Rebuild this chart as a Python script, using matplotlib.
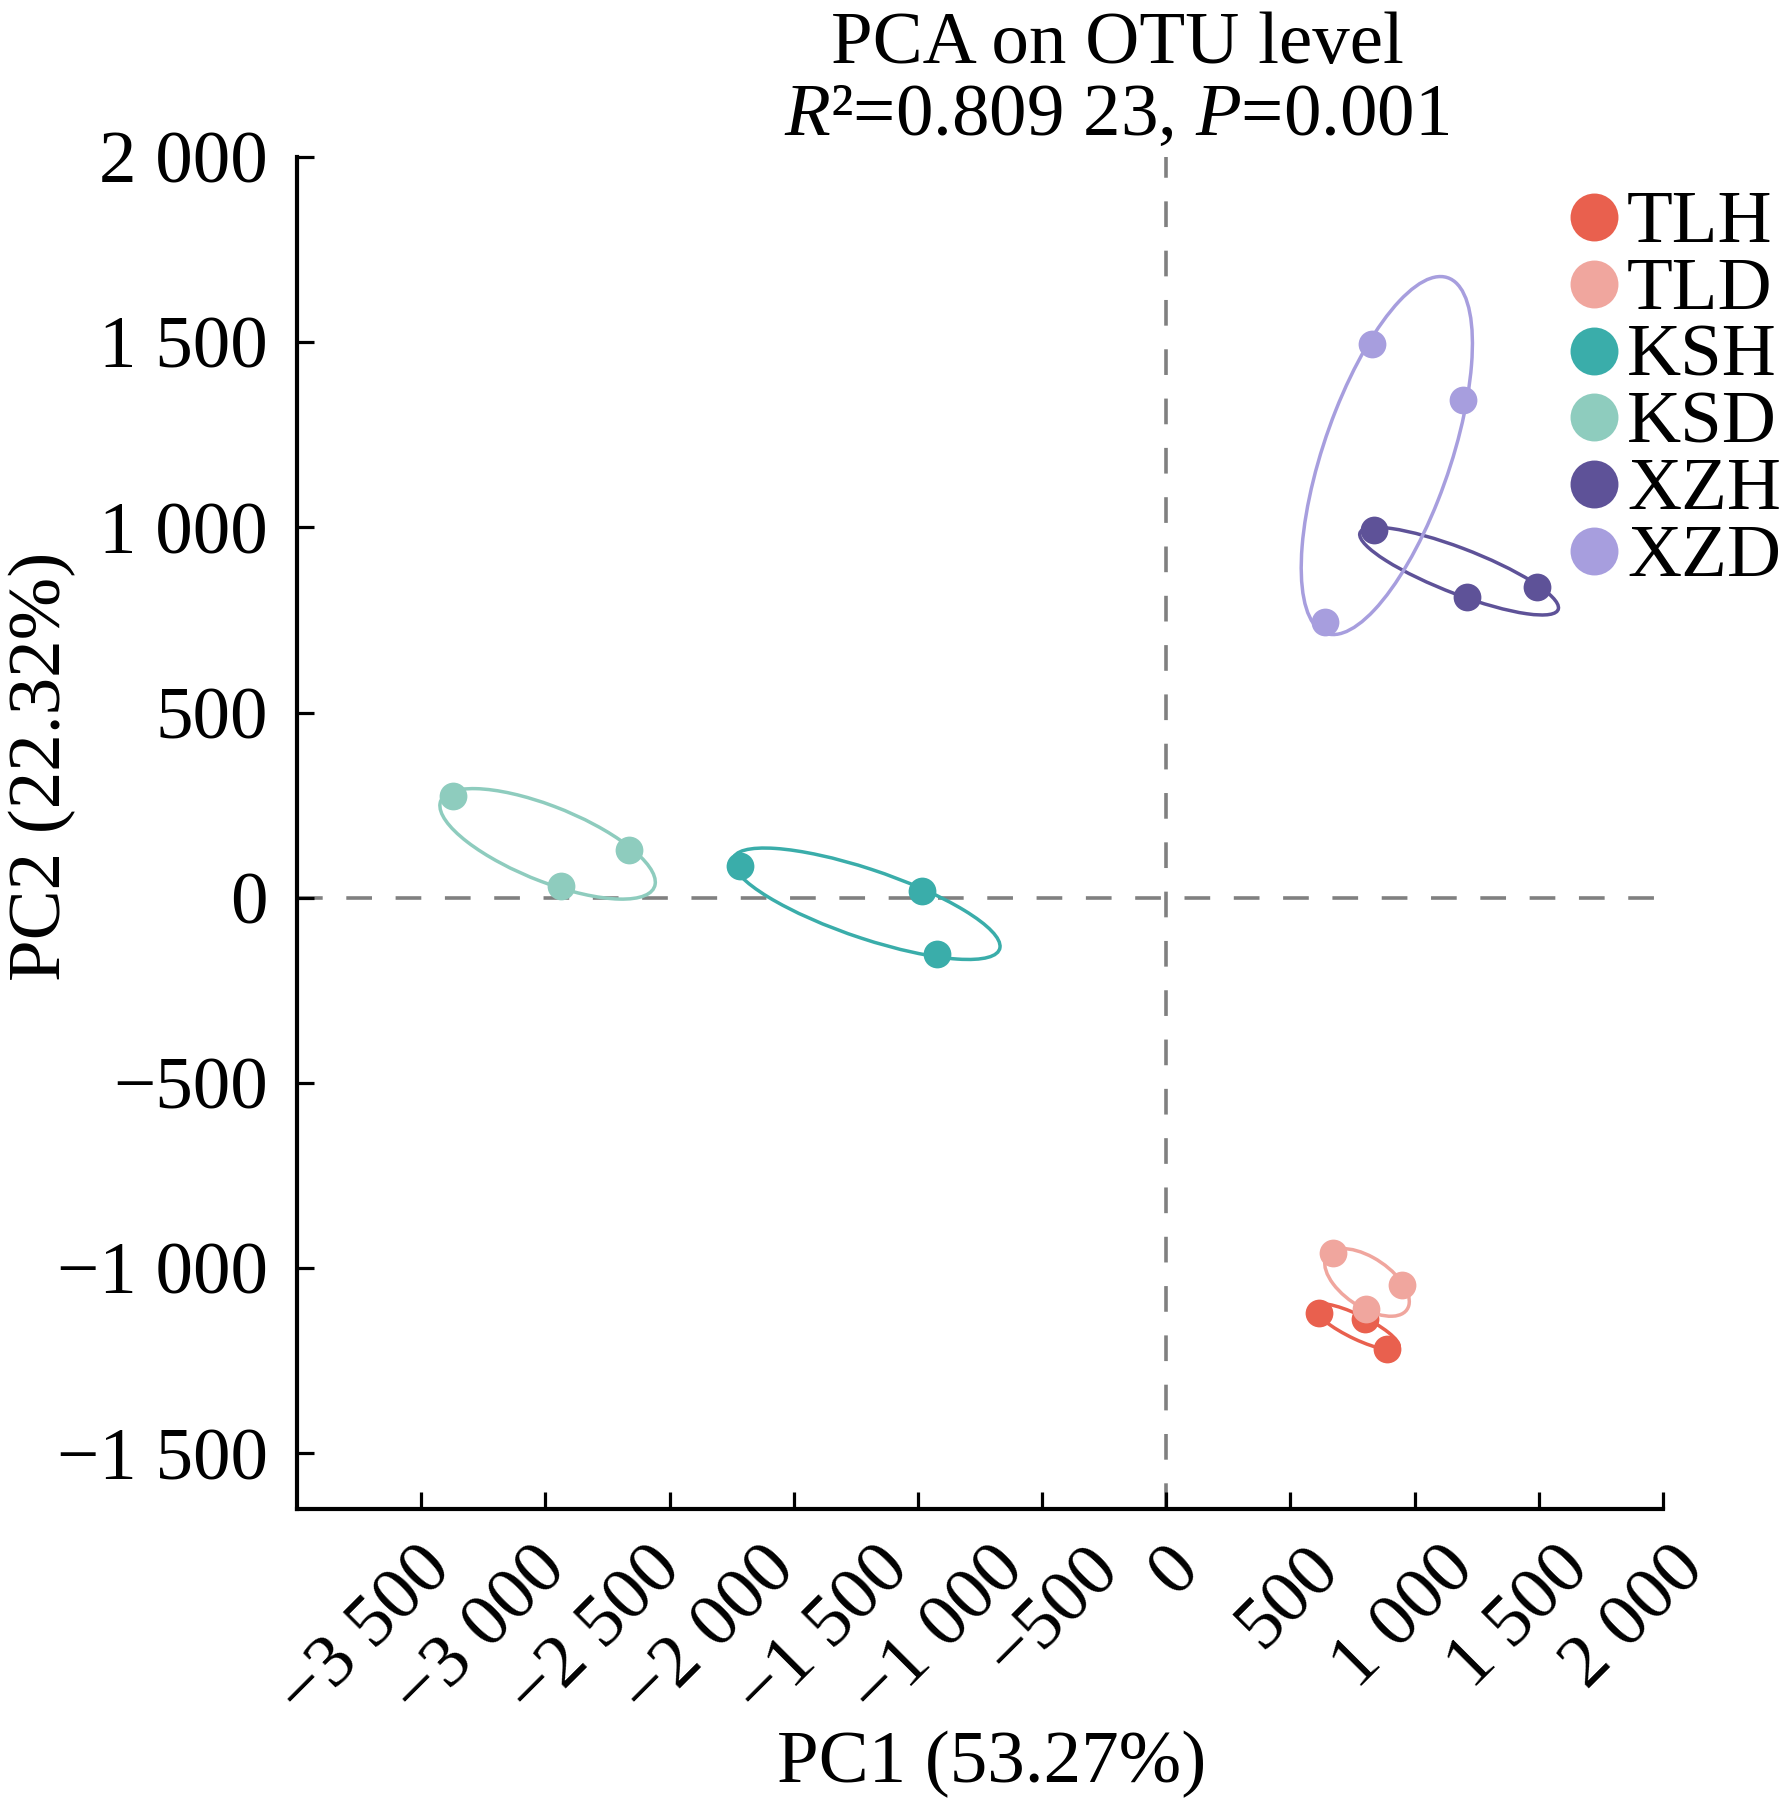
import numpy as np
import matplotlib
matplotlib.use("Agg")
import matplotlib.pyplot as plt
from matplotlib.patches import Ellipse

plt.rcParams['font.family'] = ['Liberation Serif', 'DejaVu Serif']
plt.rcParams['mathtext.fontset'] = 'custom'
plt.rcParams['mathtext.rm'] = 'Liberation Serif'
plt.rcParams['mathtext.it'] = 'Liberation Serif:italic'
plt.rcParams['lines.scale_dashes'] = False

# ---------------- data ----------------
groups = ['TLH', 'TLD', 'KSH', 'KSD', 'XZH', 'XZD']
colors = ['#E9604E', '#F0A69E', '#3AADAA', '#8ECCBE', '#5E5298', '#A79EDE']

tlh_pc1 = [613, 801, 887]
tlh_pc2 = [-1122, -1136, -1217]
tld_pc1 = [670, 949, 806]
tld_pc2 = [-960, -1046, -1109]
ksh_pc1 = [-1716, -984, -923]
ksh_pc2 = [86, 19, -153]
ksd_pc1 = [-2870, -2165, -2438]
ksd_pc2 = [275, 130, 32]
xzh_pc1 = [837, 1209, 1491]
xzh_pc2 = [993, 813, 840]
xzd_pc1 = [830, 1195, 639]
xzd_pc2 = [1494, 1343, 745]

pc1_sets = [tlh_pc1, tld_pc1, ksh_pc1, ksd_pc1, xzh_pc1, xzd_pc1]
pc2_sets = [tlh_pc2, tld_pc2, ksh_pc2, ksd_pc2, xzh_pc2, xzd_pc2]

x_ticks = [-3000, -2500, -2000, -1500, -1000, -500, 0, 500, 1000, 1500, 2000]
x_tick_labels = ['\u22123 500', '\u22123 000', '\u22122 500', '\u22122 000', '\u22121 500',
                 '\u22121 000', '\u2212500', '0', '500', '1 000', '1 500', '2 000']
# label anchor positions (as drawn in the original figure, along PC1)
x_label_pos = [-2824, -2361, -1898, -1439, -980, -517, -135, 188, 751, 1295, 1758, 2221]

y_ticks = [2000, 1500, 1000, 500, 0, -500, -1000, -1500]
y_tick_labels = ['2 000', '1 500', '1 000', '500', '0', '\u2212500', '\u22121 000', '\u22121 500']

title_line1 = 'PCA on OTU level'
title_line2 = r'$\mathit{R}$²=0.809 23, $\mathit{P}$=0.001'
xlabel = 'PC1 (53.27%)'
ylabel = 'PC2 (22.32%)'

# ---------------- figure ----------------
W, H = 1780, 1805
fig = plt.figure(figsize=(W / 100, H / 100), dpi=100)
ax_l, ax_r, ax_t, ax_b = 297, 1663, 157, 1509
ax = fig.add_axes([ax_l / W, 1 - ax_b / H, (ax_r - ax_l) / W, (ax_b - ax_t) / H])
ax.set_xlim(-3500, 2000)
ax.set_ylim(-1650, 2000)

for s in ['top', 'right']:
    ax.spines[s].set_visible(False)
for s in ['left', 'bottom']:
    ax.spines[s].set_linewidth(3.0)

FS = 54
ax.set_xticks(x_ticks)
ax.set_xticklabels([])
ax.set_yticks(y_ticks)
ax.set_yticklabels(y_tick_labels, fontsize=FS)
ax.tick_params(axis='both', direction='in', length=12, width=2.3)
ax.tick_params(axis='y', pad=21)

# rotated x tick labels
xt = ax.get_xaxis_transform()
for pos, lab in zip(x_label_pos, x_tick_labels):
    ax.text(pos, -26 / (ax_b - ax_t), lab, transform=xt, rotation=45,
            ha='right', va='top', fontsize=FS, clip_on=False)

# reference lines
ax.axhline(0, color='#808080', lw=2.6, ls=(0, (18.5, 17)), zorder=1)
ax.axvline(0, color='#808080', lw=2.6, ls=(0, (18.5, 17)), zorder=1)

# ellipses + points
k = 1.22
for xs, ys, c in zip(pc1_sets, pc2_sets, colors):
    xs = np.asarray(xs, float)
    ys = np.asarray(ys, float)
    cov = np.cov(xs, ys)
    vals, vecs = np.linalg.eigh(cov)
    ang = np.degrees(np.arctan2(vecs[1, 1], vecs[0, 1]))
    e = Ellipse((xs.mean(), ys.mean()), 2 * k * np.sqrt(vals[1]), 2 * k * np.sqrt(vals[0]),
                angle=ang, facecolor='none', edgecolor=c, lw=2.5, zorder=2)
    ax.add_patch(e)
    ax.plot(xs, ys, 'o', ms=20, color=c, mec='none', zorder=3, clip_on=False)

# legend (manual)
lx_m = (1594 - ax_l) / (ax_r - ax_l)
lx_t = (1627 - ax_l) / (ax_r - ax_l)
for i, (g, c) in enumerate(zip(groups, colors)):
    ypx = 217 + i * 66.8
    ya = (ax_b - ypx) / (ax_b - ax_t)
    ax.plot([lx_m], [ya], 'o', ms=34.5, color=c, mec='none', transform=ax.transAxes,
            clip_on=False, zorder=4)
    ax.text(lx_t, ya - 25 / (ax_b - ax_t), g, transform=ax.transAxes, ha='left',
            va='baseline', fontsize=FS, clip_on=False)

# titles / labels
fig.text(1117 / W, 1 - 63 / H, title_line1, ha='center', va='baseline', fontsize=FS)
fig.text(1117 / W, 1 - 135 / H, title_line2, ha='center', va='baseline', fontsize=FS)
fig.text(992 / W, 1 - 1782 / H, xlabel, ha='center', va='baseline', fontsize=FS)
fig.text(42 / W, 1 - 766 / H, ylabel, ha='center', va='center', rotation=90, fontsize=FS)

fig.savefig('out.png', dpi=100)
